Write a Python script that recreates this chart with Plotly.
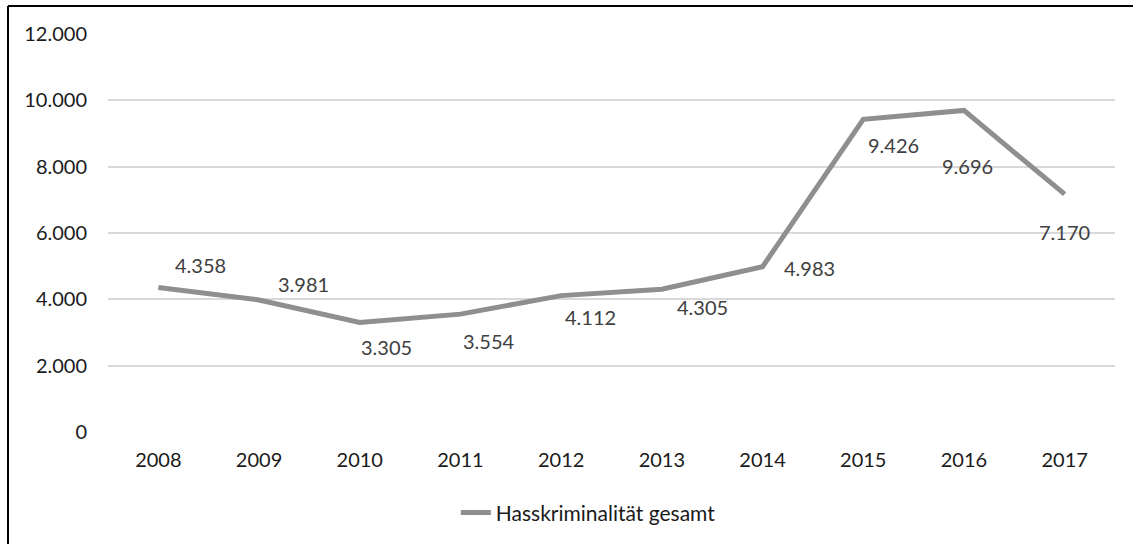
import plotly.graph_objects as go

# --- Data ---
years = ["2008", "2009", "2010", "2011", "2012", "2013", "2014", "2015", "2016", "2017"]
hate_crimes = [4358, 3981, 3305, 3554, 4112, 4305, 4983, 9426, 9696, 7170]
series_name = "Hasskriminalität gesamt"
y_ticks = [0, 2000, 4000, 6000, 8000, 10000, 12000]

# label offsets in px (x, y) - placed roughly like the Excel original
label_offsets = [(42, 22), (44, 16), (27, -25), (29, -27), (29, -21),
                 (41, -18), (47, -1), (30, -26), (4, -56), (0, -38)]


def de_fmt(v):
    return f"{v:,}".replace(",", ".")


FONT = "Lato, Carlito, Calibri, sans-serif"

fig = go.Figure()
fig.add_trace(go.Scatter(
    x=years, y=hate_crimes, mode="lines", name=series_name,
    line=dict(color="#8f8f8f", width=5),
))

# annotations on a category axis take the category index as x
for i, (val, (dx, dy)) in enumerate(zip(hate_crimes, label_offsets)):
    fig.add_annotation(x=i, y=val, text=de_fmt(val), showarrow=False,
                       xshift=dx, yshift=dy,
                       font=dict(family=FONT, size=20, color="#404040"))

# chart frame: only the top and left edges fall inside the picture
fx0 = (8 - 108) / 1007
fy1 = 1 + (34 - 6) / 399
fig.add_shape(type="line", xref="paper", yref="paper", x0=fx0, x1=1.5, y0=fy1, y1=fy1,
              line=dict(color="#000000", width=2))
fig.add_shape(type="line", xref="paper", yref="paper", x0=fx0, x1=fx0, y0=-1.0, y1=fy1,
              line=dict(color="#000000", width=2))

fig.update_layout(
    width=1133, height=544,
    margin=dict(l=108, r=18, t=34, b=111),
    paper_bgcolor="white", plot_bgcolor="white",
    font=dict(family=FONT, size=20, color="#1a1a1a"),
    showlegend=True,
    legend=dict(orientation="h", x=0.477, xanchor="center", y=-0.2, yanchor="middle",
                font=dict(size=21, color="#1a1a1a")),
    xaxis=dict(type="category", range=[-0.5, len(years) - 0.5], showgrid=False,
               showline=False, zeroline=False, ticks="", ticklabelstandoff=14),
    yaxis=dict(range=[0, 12000], tickvals=y_ticks, ticktext=[de_fmt(v) for v in y_ticks],
               showgrid=True, gridcolor="#d9d9d9", gridwidth=1.5, zeroline=False,
               showline=False, ticks="", ticklabelstandoff=20),
)

# drop the default 8px page margin so the figure fills the window
fig.write_html("out.html", config={"displayModeBar": False},
               post_script="document.body.style.margin='0';document.body.style.overflow='hidden';")
